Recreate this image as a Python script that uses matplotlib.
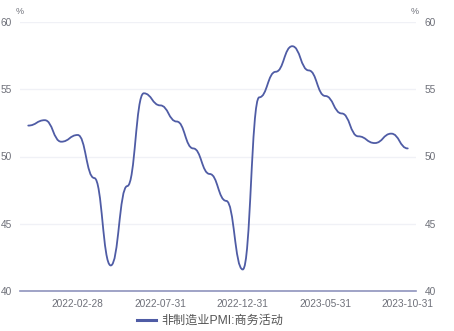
import matplotlib
matplotlib.use('Agg')
import matplotlib.pyplot as plt
from matplotlib.path import Path
from matplotlib.patches import PathPatch
from matplotlib.lines import Line2D

plt.rcParams['font.family'] = ['Liberation Sans', 'Noto Sans CJK SC', 'DejaVu Sans']

months = ['2021-11-30', '2021-12-31', '2022-01-31', '2022-02-28', '2022-03-31', '2022-04-30',
          '2022-05-31', '2022-06-30', '2022-07-31', '2022-08-31', '2022-09-30', '2022-10-31',
          '2022-11-30', '2022-12-31', '2023-01-31', '2023-02-28', '2023-03-31', '2023-04-30',
          '2023-05-31', '2023-06-30', '2023-07-31', '2023-08-31', '2023-09-30', '2023-10-31']
pmi = [52.3, 52.7, 51.1, 51.6, 48.4, 41.9, 47.8, 54.7, 53.8, 52.6, 50.6, 48.7,
       46.7, 41.6, 54.4, 56.3, 58.2, 56.4, 54.5, 53.2, 51.5, 51.0, 51.7, 50.6]
series_name = '非制造业PMI:商务活动'
yticks = [40, 45, 50, 55, 60]

line_color = '#4f5ca5'
text_color = '#6e7079'

fig = plt.figure(figsize=(4.54, 3.31), dpi=100)
ax = fig.add_axes([20/454, 40/331, 396/454, 269/331])

# smooth line: cubic bezier segments with flat handles at each point
x = list(range(len(pmi)))
k = 0.48
verts = [(x[0], pmi[0])]
codes = [Path.MOVETO]
for i in range(len(pmi) - 1):
    verts += [(x[i] + k, pmi[i]), (x[i+1] - k, pmi[i+1]), (x[i+1], pmi[i+1])]
    codes += [Path.CURVE4] * 3
ax.add_patch(PathPatch(Path(verts, codes), facecolor='none', edgecolor=line_color,
                       lw=1.3, capstyle='round', joinstyle='round', zorder=3))

ax.set_xlim(-0.5, len(pmi) - 0.5)
ax.set_ylim(40, 60)
ax.set_yticks(yticks)
ax.grid(True, axis='y', color='#f0f1f6', lw=1)
ax.set_axisbelow(True)
for s in ['top', 'left', 'right']:
    ax.spines[s].set_visible(False)
ax.spines['bottom'].set_color('#8f94bd')
ax.spines['bottom'].set_linewidth(1.2)

tick_idx = [3, 8, 13, 18, 23]
ax.set_xticks(tick_idx)
ax.set_xticklabels([months[i] for i in tick_idx])
ax.tick_params(axis='x', length=0, pad=6, labelsize=7.3, labelcolor=text_color)
ax.tick_params(axis='y', length=0, pad=6, labelsize=7.3, labelcolor=text_color,
               labelright=True)

fig.text(20/454, 1 - 11/331, '%', ha='center', va='center', fontsize=6.5, color=text_color)
fig.text(415/454, 1 - 11/331, '%', ha='center', va='center', fontsize=6.5, color=text_color)

handle = Line2D([], [], color=line_color, lw=2.2)
fig.legend([handle], [series_name], loc='center', bbox_to_anchor=(210/454, 10/331),
           frameon=False, fontsize=8.7, handlelength=1.6, handletextpad=0.4,
           labelcolor='#555555')

fig.savefig('out.png', dpi=100)
